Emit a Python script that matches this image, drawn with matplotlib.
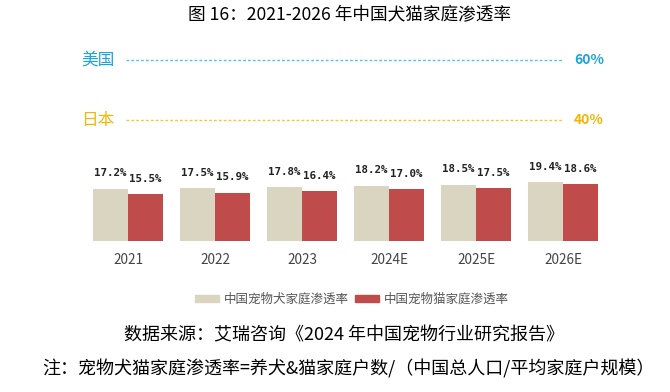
import matplotlib.pyplot as plt
import numpy as np
from matplotlib.patches import Patch

plt.rcParams['font.family'] = ['Noto Sans CJK SC', 'DejaVu Sans']

# datos
anios = ['2021', '2022', '2023', '2024E', '2025E', '2026E']
perros = [17.2, 17.5, 17.8, 18.2, 18.5, 19.4]
gatos = [15.5, 15.9, 16.4, 17.0, 17.5, 18.6]
ref_paises = ['美国', '日本']
ref_valores = [60, 40]
ref_colores = ['#1AA3DD', '#F4B500']
ref_lineas = ['#52C3E6', '#F7C544']

c_perro = '#DAD5C1'
c_gato = '#BF4B4B'

W, H = 670, 392
fig = plt.figure(figsize=(6.7, 3.92), dpi=100)

def fx(px):
    return px / W

def fy(py):
    return 1 - py / H

# titulo
fig.text(fx(350), fy(15), '图 16：2021-2026 年中国犬猫家庭渗透率', ha='center', va='center', fontsize=12.7)

# lineas de referencia (EE.UU. / Japon)
for nombre, val, col, lcol, py in zip(ref_paises, ref_valores, ref_colores, ref_lineas, [60, 120]):
    fig.text(fx(81), fy(py), nombre, color=col, fontsize=12, va='center', ha='left')
    fig.lines.append(plt.Line2D([fx(126), fx(563)], [fy(py), fy(py)], transform=fig.transFigure,
                                color=lcol, linestyle=(0, (2, 1.5)), linewidth=1.0))
    fig.text(fx(589), fy(py), f'{val}%', color=col, fontsize=10, fontweight='bold', va='center', ha='center')

# barras
ax_left, ax_right = 60, 640
espacio = 87.0
x0 = 128
ax = fig.add_axes([fx(ax_left), fy(241), fx(ax_right - ax_left), 76 / H])
ax.set_xlim((ax_left - x0) / espacio, (ax_right - x0) / espacio)
ax.set_ylim(0, 25)
x = np.arange(len(anios))
ancho = 35 / espacio
ax.bar(x - ancho / 2, perros, width=ancho, color=c_perro)
ax.bar(x + ancho / 2, gatos, width=ancho, color=c_gato)
for i in range(len(anios)):
    ax.annotate(f'{perros[i]:.1f}%', (x[i] - ancho / 2, perros[i]), xytext=(0, 11), textcoords='offset points',
                ha='center', va='center', fontsize=7.8, fontweight='bold', color='#222222',
                family='DejaVu Sans Mono')
    ax.annotate(f'{gatos[i]:.1f}%', (x[i] + ancho / 2, gatos[i]), xytext=(0, 11), textcoords='offset points',
                ha='center', va='center', fontsize=7.8, fontweight='bold', color='#222222',
                family='DejaVu Sans Mono')
ax.set_xticks(x)
ax.set_xticklabels(anios, fontsize=9.8, color='#444444')
ax.tick_params(axis='x', length=0, pad=9)
ax.set_yticks([])
for s in ax.spines.values():
    s.set_visible(False)

# leyenda
leg = fig.legend([Patch(color=c_perro), Patch(color=c_gato)],
                 ['中国宠物犬家庭渗透率', '中国宠物猫家庭渗透率'],
                 loc='center', bbox_to_anchor=(fx(352), fy(299)), ncol=2, frameon=False,
                 fontsize=9, handlelength=1.9, handleheight=0.5, columnspacing=0.45, handletextpad=0.45,
                 labelcolor='#555555', borderpad=0, borderaxespad=0)

# fuente y nota
fig.text(fx(344), fy(335), '数据来源：艾瑞咨询《2024 年中国宠物行业研究报告》', ha='center', va='center', fontsize=13)
fig.text(fx(42), fy(369), '注：宠物犬猫家庭渗透率=养犬&猫家庭户数/（中国总人口/平均家庭户规模）', ha='left', va='center', fontsize=13)

fig.savefig('out.png', dpi=100)
